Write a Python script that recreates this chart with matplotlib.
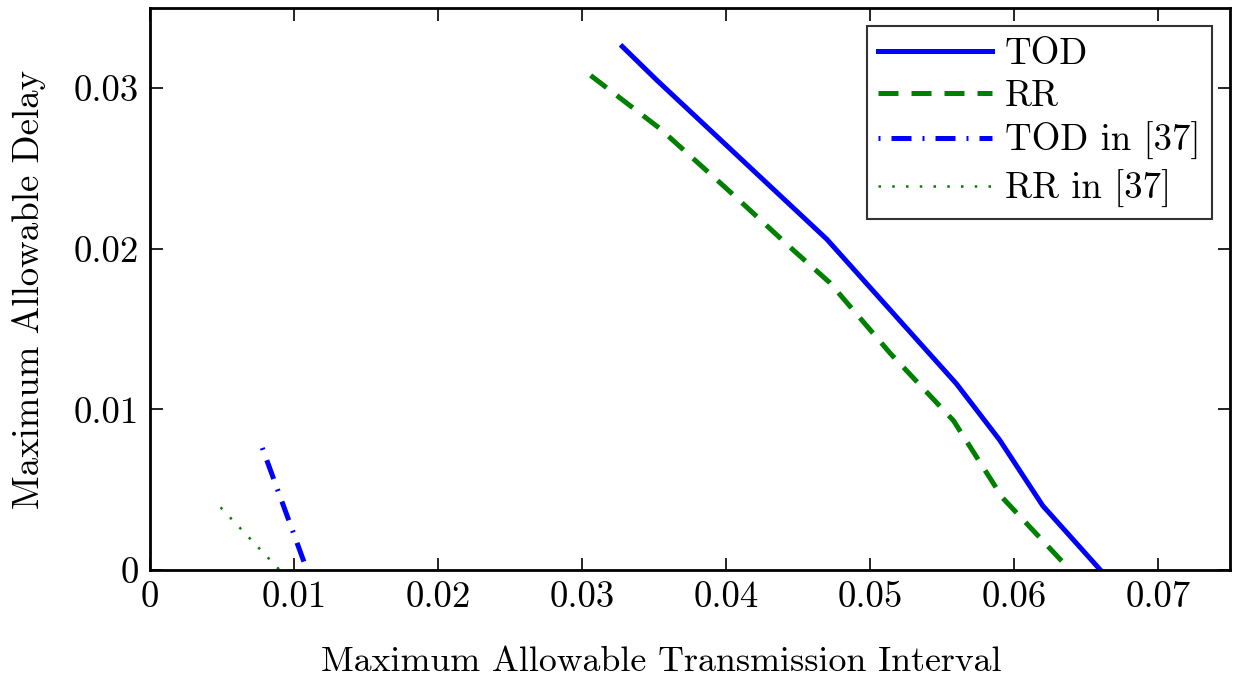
import matplotlib
matplotlib.use("Agg")
import matplotlib.pyplot as plt

plt.rcParams['font.family'] = 'serif'
plt.rcParams['font.serif'] = ['cmr10', 'DejaVu Serif']
plt.rcParams['mathtext.fontset'] = 'cm'
plt.rcParams['axes.formatter.use_mathtext'] = True

# curves
tod_x = [0.0328, 0.0352, 0.0470, 0.0560, 0.0590, 0.0620, 0.0660]
tod_y = [0.0326, 0.0305, 0.0206, 0.0116, 0.0081, 0.0040, 0.0]

rr_x = [0.0306, 0.0354, 0.0401, 0.0447, 0.0472, 0.0514, 0.0558, 0.0592, 0.0639]
rr_y = [0.0308, 0.0275, 0.0237, 0.0199, 0.0179, 0.0135, 0.0093, 0.0045, 0.0]

tod37_x = [0.0078, 0.0109]
tod37_y = [0.0076, 0.0]

rr37_x = [0.0049, 0.0090]
rr37_y = [0.0039, 0.0]

xticks = [0, 0.01, 0.02, 0.03, 0.04, 0.05, 0.06, 0.07]
xlabels = ['0', '0.01', '0.02', '0.03', '0.04', '0.05', '0.06', '0.07']
yticks = [0, 0.01, 0.02, 0.03]
ylabels = ['0', '0.01', '0.02', '0.03']

fs = 26.5

fig = plt.figure(figsize=(12.35, 6.84), dpi=100)
ax = fig.add_axes([150/1235, 1 - 570/684, 1080/1235, 562/684])

ax.plot(tod_x, tod_y, color='#0000ff', lw=3.6, ls='-', label='TOD')
ax.plot(rr_x, rr_y, color='#008000', lw=3.6, ls=(0, (4, 2.6)), label='RR')
ax.plot(tod37_x, tod37_y, color='#0000ff', lw=3.6, ls=(0, (0.4, 2.2, 4, 2.2)), label='TOD in [37]')
ax.plot(rr37_x, rr37_y, color='#008000', lw=1.8, ls=(0, (1, 4.5)), label='RR in [37]')

ax.set_xlim(0, 0.075)
ax.set_ylim(0, 0.035)
ax.set_xticks(xticks)
ax.set_xticklabels(xlabels)
ax.set_yticks(yticks)
ax.set_yticklabels(ylabels)
ax.tick_params(direction='in', length=9, width=1.2, labelsize=fs, top=True, right=True, pad=8)
for s in ax.spines.values():
    s.set_linewidth(2)

ax.set_xlabel('Maximum Allowable Transmission Interval', fontsize=25.8, labelpad=25)
ax.xaxis.set_label_coords(0.473, -0.135)
ax.set_ylabel('Maximum Allowable Delay', fontsize=fs, labelpad=20)

leg = ax.legend(loc='upper right', fontsize=fs, handlelength=3.1, frameon=True,
                fancybox=False, edgecolor='black', borderaxespad=0.5,
                labelspacing=0.25, handletextpad=0.35, borderpad=0.3)
leg.get_frame().set_linewidth(1.5)

fig.savefig('out.png', dpi=100)
